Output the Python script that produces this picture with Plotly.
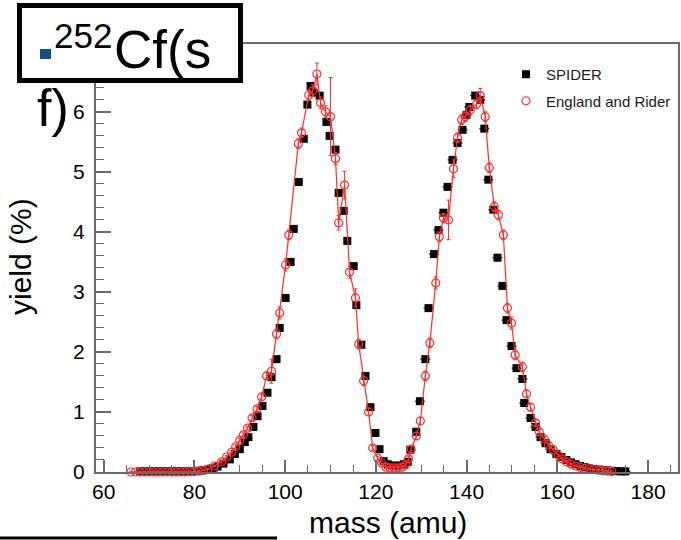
import plotly.graph_objects as go

# ---------------- data ----------------
spider_mass = [68, 69, 70, 71, 72, 73, 74, 75, 76, 77, 78, 79, 80, 81, 82, 83, 84,
               85.1, 86.4, 87.8, 88.9, 90.0, 91.1, 91.9, 93.0, 93.9, 95.0, 96.1, 97.0, 98.1, 98.8,
               100.1, 101.2, 101.9, 103.0, 104.1, 104.9, 105.6, 106.3, 107.6, 109.1, 109.8, 111.1,
               111.8, 112.9, 113.7, 115.1, 115.7, 116.8, 117.7, 118.8, 119.9, 120.8, 121.7, 122.6,
               123.5, 124.4, 125.3, 126.2, 127.0, 127.6, 128.9, 129.7, 130.9, 131.6, 132.8, 133.8,
               134.9, 135.8, 136.9, 138.0, 139.1, 140.0, 140.6, 141.9, 143.0, 143.9, 144.8, 145.9,
               146.8, 147.9, 148.8, 149.9, 151.0, 152.3, 152.7, 154.1, 155.2, 156.3, 157.4, 158.5,
               159.8, 160.9, 162, 163, 164, 165, 166, 167, 168, 169, 170, 171, 172, 173, 174, 175]
spider_yield = [0.01, 0.01, 0.01, 0.01, 0.01, 0.01, 0.01, 0.01, 0.01, 0.01, 0.01, 0.01, 0.015, 0.02, 0.03, 0.04, 0.06,
                0.09, 0.14, 0.21, 0.30, 0.38, 0.50, 0.58, 0.75, 0.93, 1.10, 1.32, 1.58, 1.88, 2.40,
                2.90, 3.50, 4.05, 4.83, 5.55, 6.12, 6.43, 6.32, 6.27, 5.83, 5.60, 5.37,
                4.65, 4.35, 3.85, 3.43, 2.78, 2.12, 1.60, 1.08, 0.65, 0.38, 0.18, 0.13,
                0.11, 0.10, 0.11, 0.13, 0.17, 0.37, 0.67, 1.18, 1.88, 2.73, 3.63, 4.03,
                4.32, 4.75, 5.20, 5.48, 5.70, 5.95, 6.08, 6.27, 6.20, 5.72, 4.87, 4.37,
                3.57, 3.10, 2.53, 2.10, 1.73, 1.55, 1.15, 0.90, 0.75, 0.58, 0.48, 0.38,
                0.30, 0.25, 0.20, 0.16, 0.13, 0.10, 0.08, 0.06, 0.05, 0.04, 0.03, 0.025, 0.02, 0.015, 0.01, 0.01]
spider_mass_err = [0.6] * 62 + [1.1] * 45

er_mass = [66, 67, 68, 69, 70, 71, 72, 73, 74, 75, 76, 77, 78, 79, 80, 81, 82, 83,
           84.4, 86.0, 87.1, 88.2, 89.1, 90.0, 90.8, 91.7, 92.7, 93.8, 94.8, 95.9, 97.0, 98.1, 98.8,
           100.1, 100.8, 102.9, 103.6, 105.2, 106.1, 107.0, 107.8, 108.9, 110.0, 111.1, 111.8,
           113.1, 114.2, 115.5, 116.2, 117.3, 118.4, 119.3, 120.4, 121.3, 122.2, 123.1, 124.0,
           124.9, 125.8, 126.6, 127.2, 127.8, 128.9, 129.8, 130.9, 131.9, 133.2, 134.0, 134.9,
           136.0, 137.1, 138.0, 138.9, 139.7, 140.8, 142.2, 143.0, 144.1, 145.0, 146.1, 147.0,
           148.1, 149.0, 149.9, 150.7, 152.3, 153.2, 154.1, 155.2, 156.0, 157.1, 158.0, 159.1,
           160.2, 161, 162, 163, 164, 165, 166, 167, 168, 169, 170, 171, 172]
er_yield = [0.0, 0.0, 0.0, 0.0, 0.0, 0.0, 0.0, 0.0, 0.0, 0.0, 0.0, 0.0, 0.003, 0.005, 0.01, 0.015, 0.025, 0.05,
            0.10, 0.17, 0.25, 0.33, 0.42, 0.53, 0.62, 0.73, 0.90, 1.05, 1.25, 1.60, 1.68, 2.30, 2.65,
            3.45, 3.95, 5.47, 5.65, 6.28, 6.35, 6.63, 6.15, 6.00, 5.92, 5.22, 4.15,
            4.78, 3.33, 2.90, 2.13, 1.52, 1.00, 0.40, 0.23, 0.15, 0.08, 0.07, 0.07,
            0.07, 0.08, 0.12, 0.22, 0.38, 0.60, 0.85, 1.60, 2.15, 3.15, 3.92, 4.23,
            4.20, 5.05, 5.57, 5.87, 5.92, 6.03, 6.13, 6.27, 5.92, 5.07, 4.42, 4.28,
            3.95, 2.73, 2.48, 1.95, 1.75, 1.30, 1.08, 0.82, 0.67, 0.55, 0.45, 0.37,
            0.28, 0.22, 0.17, 0.13, 0.10, 0.08, 0.06, 0.05, 0.04, 0.03, 0.02, 0.015, 0.01]
er_err = [0.0] * 18 + [
            0.01, 0.02, 0.02, 0.02, 0.03, 0.03, 0.03, 0.03, 0.04, 0.04, 0.05, 0.06, 0.20, 0.08, 0.10,
            0.10, 0.08, 0.08, 0.08, 0.08, 0.10, 0.18, 0.10, 0.10, 0.65, 0.10, 0.12,
            0.23, 0.10, 0.15, 0.08, 0.08, 0.06, 0.04, 0.03, 0.02, 0.02, 0.02, 0.02,
            0.02, 0.02, 0.03, 0.04, 0.05, 0.06, 0.06, 0.08, 0.08, 0.10, 0.08, 0.08,
            0.33, 0.15, 0.08, 0.08, 0.08, 0.08, 0.08, 0.12, 0.08, 0.08, 0.08, 0.08,
            0.08, 0.08, 0.10, 0.08, 0.08, 0.06, 0.06, 0.05, 0.04, 0.03, 0.03, 0.02,
            0.02, 0.02, 0.02, 0.01, 0.01, 0.01, 0.01, 0.01, 0.01, 0.01, 0.01, 0.01, 0.01]

x_ticks = [60, 80, 100, 120, 140, 160, 180]
y_ticks = [0, 1, 2, 3, 4, 5, 6]
title_iso = "252"
title_main = "Cf(s"
title_wrap = "f)"
x_title = "mass (amu)"
y_title = "yield (%)"

# ---------------- layout helpers (pixel -> paper) ----------------
W, H = 681, 540
ML, MR, MT, MB = 96, 3, 44, 68
PW, PH = W - ML - MR, H - MT - MB


def PX(px):
    return (px - ML) / PW


def PY(py):
    return (H - MB - py) / PH


FONT = "Liberation Sans, Arial, Helvetica, sans-serif"
RED = "rgb(255,45,45)"
AX = "#6a6a6a"

fig = go.Figure()

fig.add_trace(go.Scatter(
    x=spider_mass, y=spider_yield, mode="markers", name="SPIDER",
    legendgroup="a",
    marker=dict(symbol="square", size=8, color="black"),
    error_x=dict(type="data", array=spider_mass_err, color="#222", thickness=1.2, width=0),
    cliponaxis=False,
))

fig.add_trace(go.Scatter(
    x=er_mass, y=er_yield, mode="lines", showlegend=False,
    line=dict(color=RED, width=1.2), cliponaxis=False, hoverinfo="skip",
))

fig.add_trace(go.Scatter(
    x=er_mass, y=er_yield, mode="markers", name="England and Rider",
    legendgroup="b",
    marker=dict(symbol="circle-open", size=8, color=RED, line=dict(width=1.2, color=RED)),
    error_y=dict(type="data", array=er_err, color=RED, thickness=1, width=2),
    cliponaxis=False,
))


def txt(text, cx, cy, size, xanchor="left", angle=0):
    return dict(text=text, xref="paper", yref="paper", x=PX(cx), y=PY(cy),
                xanchor=xanchor, yanchor="middle", showarrow=False, textangle=angle,
                font=dict(size=size, color="black", family=FONT))


fig.update_layout(
    width=W, height=H,
    margin=dict(l=ML, r=MR, t=MT, b=MB, autoexpand=False),
    paper_bgcolor="white", plot_bgcolor="white",
    font=dict(family=FONT, color="black"),
    showlegend=True,
    legend=dict(
        x=PX(506), y=PY(58), xanchor="left", yanchor="top",
        bgcolor="rgba(255,255,255,0)", borderwidth=0,
        font=dict(size=15, color="#1a1a1a", family=FONT),
        tracegroupgap=4, traceorder="grouped",
        itemsizing="trace",
    ),
    xaxis=dict(
        range=[58.3, 186.6], tickvals=x_ticks, ticktext=[str(v) for v in x_ticks],
        ticks="inside", ticklen=12, tickwidth=1.5, tickcolor=AX,
        minor=dict(dtick=5, ticks="inside", ticklen=7, tickwidth=1.2, tickcolor=AX),
        showline=True, linecolor=AX, linewidth=2, mirror=True,
        showgrid=False, zeroline=False,
        tickfont=dict(size=21, color="black", family=FONT),
        automargin=False,
    ),
    yaxis=dict(
        range=[0, 7.13], tickvals=y_ticks, ticktext=[str(v) for v in y_ticks],
        ticks="inside", ticklen=15, tickwidth=1.5, tickcolor=AX,
        minor=dict(dtick=0.2, ticks="inside", ticklen=8, tickwidth=1.2, tickcolor=AX),
        showline=True, linecolor=AX, linewidth=2, mirror=True,
        showgrid=False, zeroline=False, ticklabelstandoff=5,
        tickfont=dict(size=21, color="black", family=FONT),
        automargin=False,
    ),
    shapes=[
        dict(type="rect", xref="paper", yref="paper",
             x0=PX(19.5), x1=PX(240.5), y0=PY(80.5), y1=PY(5.5),
             line=dict(color="black", width=5), fillcolor="white", layer="above"),
        dict(type="rect", xref="paper", yref="paper",
             x0=PX(40), x1=PX(51), y0=PY(59), y1=PY(49),
             line=dict(width=0), fillcolor="#0f4d8f", layer="above"),
        dict(type="line", xref="paper", yref="paper",
             x0=PX(0), x1=PX(277), y0=PY(538), y1=PY(538),
             line=dict(color="black", width=3), layer="above"),
    ],
    annotations=[
        txt(title_iso, 52, 35, 35),
        txt(title_main, 112, 49, 53),
        txt(title_wrap, 35, 108, 52),
        txt(x_title, 388, 522, 30, xanchor="center"),
        txt(y_title, 20, 257, 30, xanchor="center", angle=-90),
    ],
)

fig.write_html("out.html",
               config={"displayModeBar": False},
               post_script="document.body.style.margin='0px';document.body.style.padding='0px';")
